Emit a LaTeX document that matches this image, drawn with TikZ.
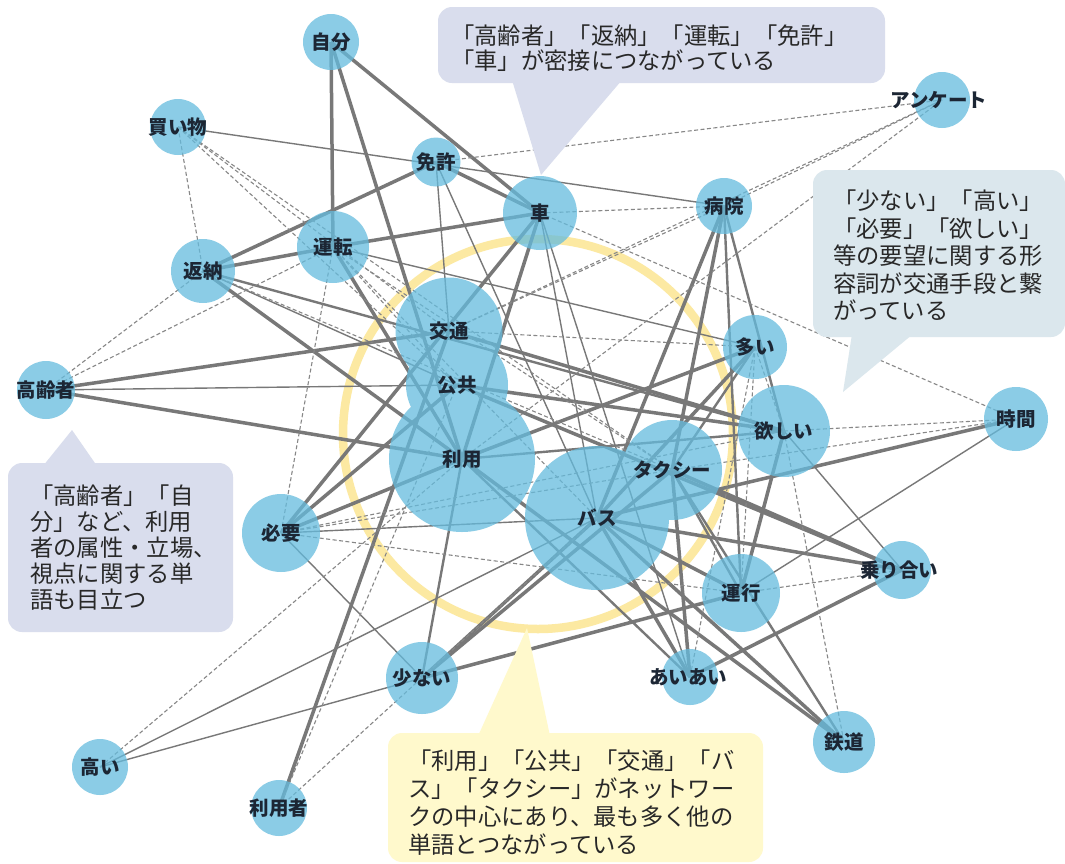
\documentclass[tikz,border=0pt]{standalone}
\usepackage{fontspec}
\newfontfamily\jp{Noto Sans CJK JP}
\definecolor{nodeblue}{RGB}{101,188,222}
\definecolor{edgegray}{RGB}{120,120,120}
\definecolor{dashgray}{RGB}{135,135,135}
\definecolor{ringyellow}{RGB}{252,233,162}
\definecolor{calloutA}{RGB}{217,221,237}
\definecolor{calloutB}{RGB}{219,231,237}
\definecolor{calloutY}{RGB}{255,249,204}
\definecolor{labeltext}{RGB}{28,38,52}
\definecolor{calltext}{RGB}{40,40,40}
\pgfdeclarelayer{bglayer}
\pgfdeclarelayer{ringlayer}
\pgfdeclarelayer{edgelayer}
\pgfdeclarelayer{labellayer}
\pgfdeclarelayer{calloutlayer}
\pgfsetlayers{bglayer,ringlayer,edgelayer,main,labellayer,calloutlayer}
\tikzset{
  wc/.style={circle, fill=nodeblue, inner sep=0pt, minimum size=#1pt},
  lbl/.style={inner sep=0pt, text=labeltext, font=\jp\bfseries\fontsize{19.5}{21}\selectfont},
  thk/.style={draw=edgegray, line width=3.5pt},
  med/.style={draw=edgegray, line width=2.4pt},
  thn/.style={draw=edgegray, line width=1.4pt},
  dsh/.style={draw=dashgray, line width=1.1pt, dash pattern=on 4pt off 2.5pt},
  ctext/.style={inner sep=0pt, anchor=north west, align=left, text=calltext},
}
\begin{document}
\begin{tikzpicture}[x=1pt,y=-1pt]
\useasboundingbox (0,0) rectangle (1065,863);
\begin{pgfonlayer}{bglayer}
\fill[white] (0,0) rectangle (1065,863);
\end{pgfonlayer}

% ring
\begin{pgfonlayer}{ringlayer}
\draw[ringyellow, line width=8.5pt] (538,434) circle[radius=195pt];
\end{pgfonlayer}

% nodes (circles)
\begin{scope}[transparency group, opacity=0.75]
\node[wc=56]  (jibun)     at (331,42)  {};
\node[wc=56]  (kaimono)   at (178,127) {};
\node[wc=49]  (menkyo)    at (436,162) {};
\node[wc=74]  (kuruma)    at (540,213) {};
\node[wc=56]  (byoin)     at (724,206) {};
\node[wc=56]  (anketo)    at (942,100) {};
\node[wc=72]  (unten)     at (333,247) {};
\node[wc=64]  (hennou)    at (203,271) {};
\node[wc=107] (koutsu)    at (449,331) {};
\node[wc=102] (koukyou)   at (457,385) {};
\node[wc=58]  (koureisha) at (46,390)  {};
\node[wc=146] (riyou)     at (462,459) {};
\node[wc=64]  (ooi)       at (755,347) {};
\node[wc=92]  (hoshii)    at (784,431) {};
\node[wc=64]  (jikan)     at (1016,419) {};
\node[wc=100] (takushi)   at (672,470) {};
\node[wc=144] (basu)      at (597,518) {};
\node[wc=78]  (hitsuyou)  at (281,533) {};
\node[wc=58]  (noriai)    at (902,570) {};
\node[wc=78]  (unkou)     at (741,593) {};
\node[wc=72]  (sukunai)   at (422,678) {};
\node[wc=56]  (aiai)      at (690,677) {};
\node[wc=62]  (tetsudou)  at (844,742) {};
\node[wc=56]  (takai)     at (100,767) {};
\node[wc=56]  (riyousha)  at (279,808) {};
\end{scope}

% edges
\begin{pgfonlayer}{edgelayer}
\foreach \a/\b in {jibun/unten, jibun/riyou, jibun/kuruma, menkyo/hennou, menkyo/kuruma,
  unten/hennou, unten/kuruma, hennou/riyou, koureisha/koutsu, koureisha/riyou,
  hitsuyou/kuruma, hitsuyou/koukyou, riyousha/koutsu, kuruma/riyou, byoin/takushi,
  byoin/basu, koukyou/hoshii, riyou/ooi, basu/ooi, basu/tetsudou, riyou/tetsudou,
  basu/noriai, takushi/noriai, koukyou/noriai, sukunai/unkou, sukunai/takushi,
  sukunai/basu, noriai/aiai, basu/jikan, unkou/hoshii, basu/aiai, takushi/aiai,
  basu/unkou, koutsu/hoshii, unten/riyou, hitsuyou/riyou}
  \draw[thk] (\a.center) -- (\b.center);
\foreach \a/\b in {riyou/sukunai, byoin/unkou, byoin/hoshii, takushi/tetsudou, riyou/aiai,
  takushi/unkou, hennou/hoshii, takushi/ooi, riyou/hoshii}
  \draw[med] (\a.center) -- (\b.center);
\foreach \a/\b in {kaimono/byoin, menkyo/koutsu, menkyo/basu, kuruma/basu, koureisha/koukyou,
  takai/sukunai, takai/basu, hitsuyou/basu, hitsuyou/sukunai, jikan/unkou, hoshii/noriai,
  unten/ooi, kuruma/aiai, hennou/koukyou}
  \draw[thn] (\a.center) -- (\b.center);
\foreach \a/\b in {kaimono/hennou, kaimono/koutsu, kaimono/koukyou, kaimono/takushi,
  koureisha/hennou, koureisha/unten, unten/hitsuyou, unten/koukyou, unten/takushi,
  unten/basu, menkyo/anketo, byoin/anketo, koutsu/anketo, riyou/anketo, kuruma/byoin,
  kuruma/jikan, koutsu/ooi, riyousha/koukyou, riyousha/basu, takai/riyou,
  hitsuyou/takushi, hitsuyou/hoshii, hitsuyou/unkou, ooi/hoshii, ooi/unkou, ooi/aiai,
  hoshii/jikan, takushi/jikan, hoshii/tetsudou, unkou/noriai, koutsu/byoin, hennou/takushi}
  \draw[dsh] (\a.center) -- (\b.center);
\end{pgfonlayer}

% labels
\begin{pgfonlayer}{labellayer}
\node[lbl] (jibunT)     at (jibun)     {自分};
\node[lbl] (kaimonoT)   at (kaimono)   {買い物};
\node[lbl] (menkyoT)    at (menkyo)    {免許};
\node[lbl] (kurumaT)    at (kuruma)    {車};
\node[lbl] (byoinT)     at (byoin)     {病院};
\node[lbl] (anketoT)    at (939,100)   {アンケート};
\node[lbl] (untenT)     at (unten)     {運転};
\node[lbl] (hennouT)    at (hennou)    {返納};
\node[lbl] (koutsuT)    at (koutsu)    {交通};
\node[lbl] (koukyouT)   at (koukyou)   {公共};
\node[lbl] (koureishaT) at (koureisha) {高齢者};
\node[lbl] (riyouT)     at (riyou)     {利用};
\node[lbl] (ooiT)       at (ooi)       {多い};
\node[lbl] (hoshiiT)    at (hoshii)    {欲しい};
\node[lbl] (jikanT)     at (jikan)     {時間};
\node[lbl] (takushiT)   at (takushi)   {タクシー};
\node[lbl] (basuT)      at (basu)      {バス};
\node[lbl] (hitsuyouT)  at (hitsuyou)  {必要};
\node[lbl] (noriaiT)    at (899,570)   {乗り合い};
\node[lbl] (unkouT)     at (unkou)     {運行};
\node[lbl] (sukunaiT)   at (sukunai)   {少ない};
\node[lbl] (aiaiT)      at (688,677)   {あいあい};
\node[lbl] (tetsudouT)  at (tetsudou)  {鉄道};
\node[lbl] (takaiT)     at (takai)     {高い};
\node[lbl] (riyoushaT)  at (riyousha)  {利用者};
\end{pgfonlayer}

% callouts
\begin{pgfonlayer}{calloutlayer}
\fill[calloutA, rounded corners=14pt] (438,7) rectangle (885,83);
\fill[calloutA] (512,80) -- (622,80) -- (541,175) -- cycle;
\node[ctext, font=\jp\fontsize{23.3}{25}\selectfont] (topnote) at (451,25)
  {「高齢者」「返納」「運転」「免許」\\「車」が密接につながっている};

\fill[calloutB, rounded corners=14pt] (813,170) rectangle (1065,337);
\fill[calloutB] (852,334) -- (913,334) -- (843,392) -- cycle;
\node[ctext, font=\jp\fontsize{23.3}{27.5}\selectfont] (rightnote) at (833,190)
  {「少ない」「高い」\\「必要」「欲しい」\\等の要望に関する形\\容詞が交通手段と繋\\がっている};

\fill[calloutA, rounded corners=14pt] (8,463) rectangle (233,632);
\fill[calloutA] (43,466) -- (97,466) -- (72,430) -- cycle;
\node[ctext, font=\jp\fontsize{23.3}{26}\selectfont] (leftnote) at (30,485)
  {「高齢者」「自\\分」など、利用\\者の属性・立場、\\視点に関する単\\語も目立つ};

\fill[calloutY, rounded corners=14pt] (388,733) rectangle (763,862);
\fill[calloutY] (478,736) -- (550,736) -- (527,628) -- cycle;
\node[ctext, font=\jp\fontsize{23.3}{27.7}\selectfont] (bottomnote) at (408,750)
  {「利用」「公共」「交通」「バ\\ス」「タクシー」がネットワー\\クの中心にあり、最も多く他の\\単語とつながっている};
\end{pgfonlayer}
\end{tikzpicture}
\end{document}
